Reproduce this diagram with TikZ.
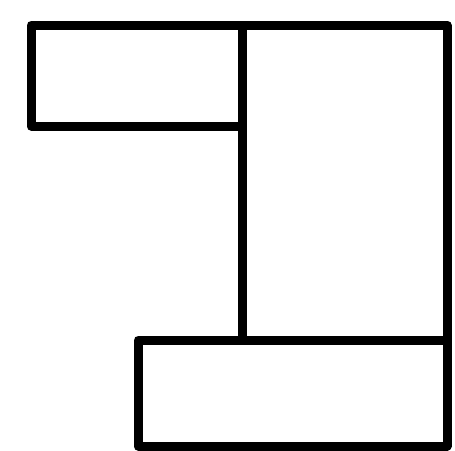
\documentclass[tikz,border=0pt]{standalone}
\begin{document}
\begin{tikzpicture}[x=1pt,y=-1pt,
  box/.style={draw=black,line width=9pt,line join=round}]
\useasboundingbox (0,0) rectangle (455,450);
\draw[box] (31,25) rectangle (242,126);
\draw[box] (242,25) rectangle (447,340);
\draw[box] (138,340) rectangle (447,446);
\end{tikzpicture}
\end{document}
